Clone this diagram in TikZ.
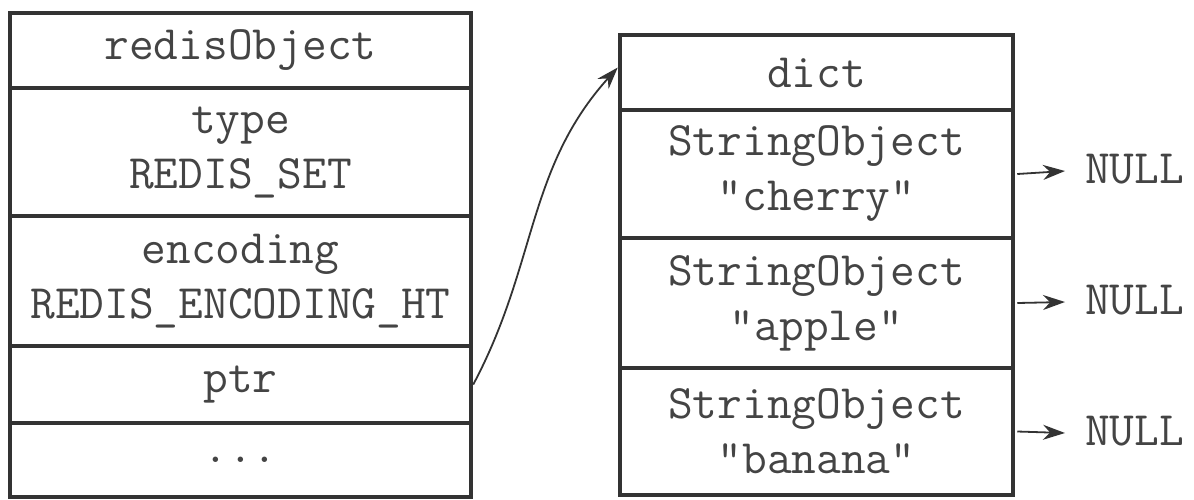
\documentclass[tikz,border=0pt]{standalone}
\usepackage{fontspec}
\usetikzlibrary{arrows.meta}
\definecolor{linec}{HTML}{333333}
\definecolor{textc}{HTML}{444444}
\tikzset{
  cell/.style={draw=linec, line width=4.5pt, rectangle, inner sep=0pt, align=center,
    text=textc, font=\fontsize{48}{55}\selectfont\ttfamily},
  lcell/.style={cell, minimum width=461pt},
  rcell/.style={cell, minimum width=393pt},
  nulltext/.style={text=textc, font=\fontsize{48}{55}\selectfont\ttfamily, inner xsep=20pt, inner ysep=0pt, anchor=west, text height=25pt, text depth=0pt},
  conn/.style={draw=linec, line width=1.8pt, -{Stealth[length=22pt,width=15pt]}}
}
\begin{document}
\begin{tikzpicture}[x=1pt,y=-1pt]
\useasboundingbox (0,0) rectangle (1194,499);
% left stack
\node[lcell, minimum height=75pt]  (ro)  at (240.5,50.5) {redisObject};
\node[lcell, minimum height=128pt] (ty)  at (240.5,152) {type\\REDIS\_SET};
\node[lcell, minimum height=130pt] (en)  at (240.5,281) {encoding\\REDIS\_ENCODING\_HT};
\node[lcell, minimum height=77pt]  (ptr) at (240.5,384.5) {ptr};
\node[lcell, minimum height=74pt]  (dots) at (240.5,460) {...};
% right stack
\node[rcell, minimum height=75pt]  (d)  at (816.5,72.5) {dict};
\node[rcell, minimum height=128pt] (c1) at (816.5,174) {StringObject\\"cherry"};
\node[rcell, minimum height=130pt] (c2) at (816.5,303) {StringObject\\"apple"};
\node[rcell, minimum height=127pt] (c3) at (816.5,431.5) {StringObject\\"banana"};
% NULLs
\node[nulltext] (n1) at (1065,171) {NULL};
\node[nulltext] (n2) at (1065,302) {NULL};
\node[nulltext] (n3) at (1065,433) {NULL};
% connectors
\draw[conn] (ptr.east) to[out=62,in=-132] ([yshift=5pt]d.west);
\draw[conn] ([xshift=2pt]c1.east) -- (n1.west);
\draw[conn] ([xshift=2pt]c2.east) -- (n2.west);
\draw[conn] ([xshift=2pt]c3.east) -- (n3.west);
\end{tikzpicture}
\end{document}
